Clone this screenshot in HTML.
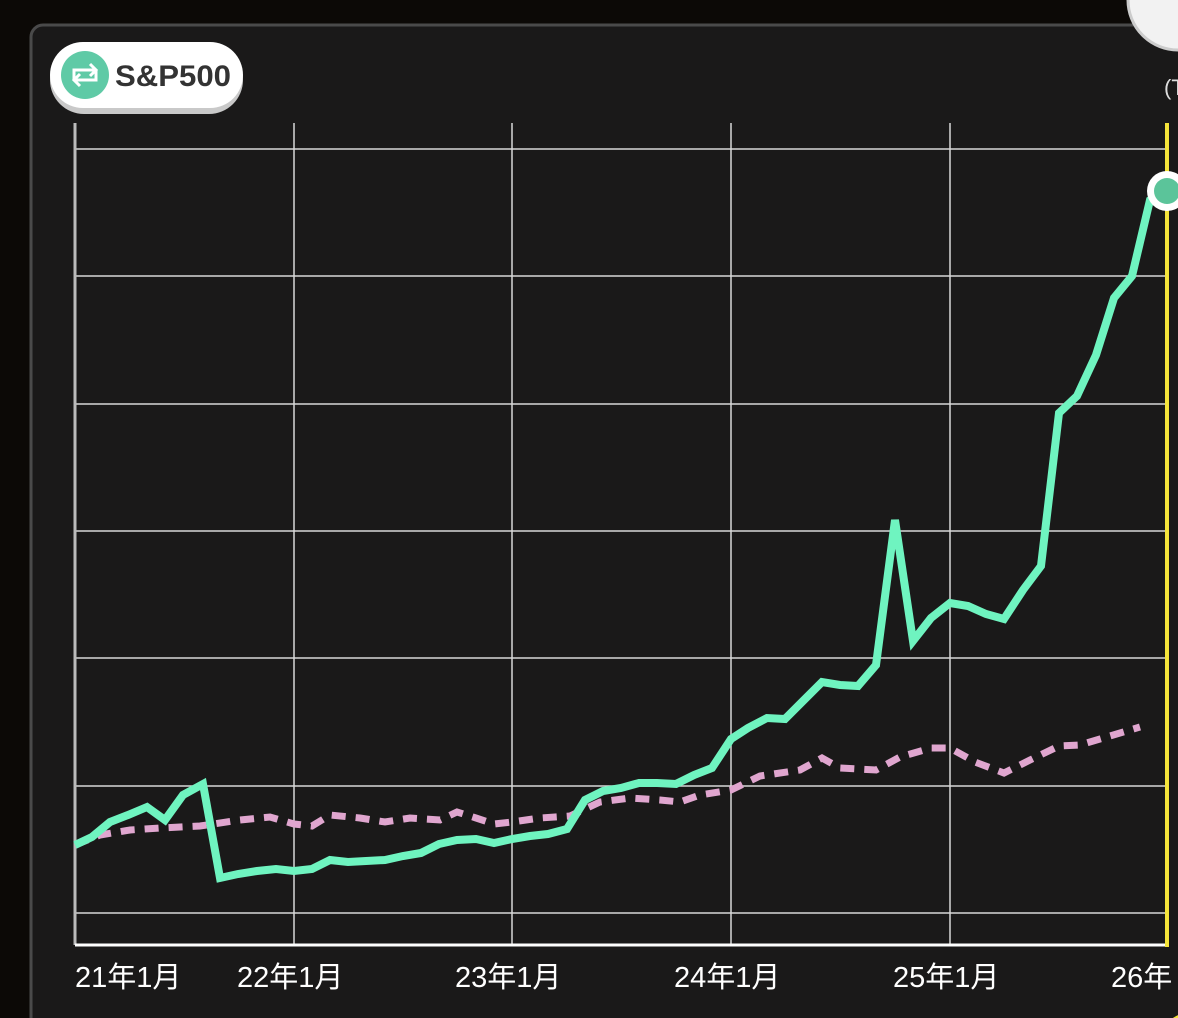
<!DOCTYPE html>
<html><head><meta charset="utf-8"><style>
html,body{margin:0;padding:0;width:1178px;height:1018px;overflow:hidden;background:#0c0906;}
svg{display:block}
</style></head><body>
<svg width="1178" height="1018" viewBox="0 0 1178 1018" xmlns="http://www.w3.org/2000/svg" style="position:absolute;left:0;top:0;overflow:hidden">
<rect x="31" y="25" width="1200" height="1100" rx="12" fill="#1a1919" stroke="#4a4a4a" stroke-width="3"/>
<g stroke="#d8d8d8" stroke-width="1.5">
<line x1="75" x2="1166" y1="149" y2="149"/><line x1="75" x2="1166" y1="276" y2="276"/>
<line x1="75" x2="1166" y1="404" y2="404"/><line x1="75" x2="1166" y1="531" y2="531"/>
<line x1="75" x2="1166" y1="658" y2="658"/><line x1="75" x2="1166" y1="786" y2="786"/>
<line x1="75" x2="1166" y1="913" y2="913"/>
<line x1="294" x2="294" y1="123" y2="945"/><line x1="512" x2="512" y1="123" y2="945"/>
<line x1="731" x2="731" y1="123" y2="945"/><line x1="950" x2="950" y1="123" y2="945"/>
</g>
<line x1="75" x2="75" y1="123" y2="945" stroke="#bbb" stroke-width="3"/>
<line x1="75" x2="1167" y1="945" y2="945" stroke="#fff" stroke-width="3"/>
<line x1="1167" x2="1167" y1="123" y2="947" stroke="#f5e43a" stroke-width="4"/>
<polyline fill="none" stroke="#e0a6cf" stroke-width="7" stroke-dasharray="14,10" points="75,845 100,835 130,830 160,828 200,826 240,820 270,817 294,824 312,826 330,815 360,818 385,822 410,818 440,820 457,812 476,818 494,824 512,822 540,818 570,816 600,802 630,798 660,800 680,802 700,795 731,790 760,776 800,770 822,758 840,768 876,770 900,757 931,748 950,748 975,762 1004,773 1030,760 1059,746 1080,745 1110,736 1140,727"/>
<polyline fill="none" stroke="#6ff4c0" stroke-width="8" stroke-linejoin="miter" points="75,845 92,837 110,822 128,815 147,807 165,820 183,795 203,784 220,878 238,874 257,871 276,869 294,871 312,869 330,860 348,862 366,861 385,860 403,856 421,853 439,844 457,840 476,839 494,843 512,839 530,836 548,834 567,829 585,800 603,791 621,788 639,783 657,783 676,784 694,775 712,768 731,739 748,728 767,718 785,719 803,701 822,682 840,685 858,686 876,665 895,520 913,641 931,618 950,603 968,606 986,614 1004,619 1023,590 1041,566 1059,413 1077,396 1096,355 1114,298 1132,276 1150,200 1164,190"/>
<circle cx="1167" cy="191" r="20" fill="#fff"/><circle cx="1167" cy="191" r="13" fill="#5bc49a"/>
<circle cx="1178" cy="0" r="50" fill="#f2f2f2" stroke="#ccc" stroke-width="3"/>
<circle cx="1200" cy="1060" r="50" fill="#f5e43a"/>
<text x="1164" y="95" fill="#ddd" font-family="Liberation Sans, sans-serif" font-size="22">(T</text>
<rect x="50" y="46" width="193" height="68" rx="34" fill="#c9c9c9"/>
<rect x="50" y="42" width="193" height="66" rx="33" fill="#fff"/>
<circle cx="85" cy="75" r="24" fill="#5fcaa6"/>
<g stroke="#fff" stroke-width="3" fill="none"><path d="M74,80 v-10 h22 m-6,-6 l6,6 l-6,6"/><path d="M96,70 v10 h-22 m6,-6 l-6,6 l6,6"/></g>
<text x="115" y="86" fill="#333" font-family="Liberation Sans, sans-serif" font-weight="bold" font-size="30" textLength="116" lengthAdjust="spacingAndGlyphs">S&amp;P500</text>
<g fill="#fff" font-family="Liberation Sans, 'Noto Sans CJK JP', sans-serif" font-size="29">
<text x="75" y="987">21年1月</text><text x="237" y="987">22年1月</text><text x="455" y="987">23年1月</text>
<text x="674" y="987">24年1月</text><text x="893" y="987">25年1月</text><text x="1111" y="987">26年</text>
</g>
</svg>
</body></html>
